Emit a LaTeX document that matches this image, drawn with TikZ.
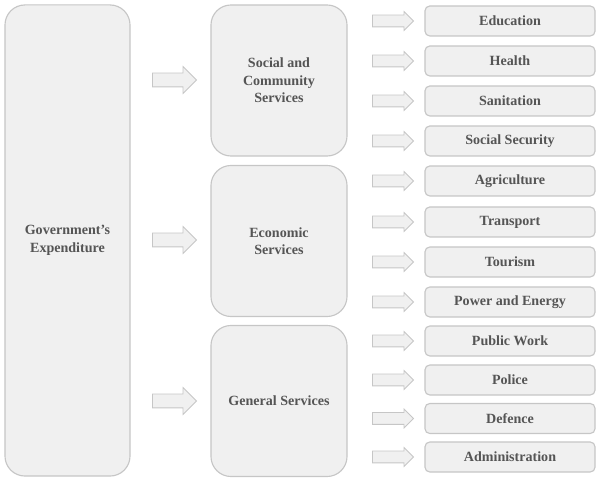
\documentclass[tikz,border=0pt]{standalone}
\usepackage{fontspec}
\setmainfont{Liberation Serif}
\usetikzlibrary{shapes.arrows}
\definecolor{boxfill}{HTML}{F0F0F0}
\definecolor{boxline}{HTML}{C6C6C6}
\definecolor{txtgray}{HTML}{555555}

\begin{document}
\begin{tikzpicture}[
  x=0.025cm, y=-0.025cm,
  block/.style      = {draw=boxline, fill=boxfill, line width=0.8pt, align=center,
                       text=txtgray, font=\bfseries\fontsize{10}{12.5}\selectfont, inner sep=0pt},
  mainbox/.style    = {block, rounded corners=0.5cm, minimum width=3.125cm, minimum height=11.775cm},
  groupbox/.style   = {block, rounded corners=0.5cm, minimum width=3.4cm, minimum height=3.775cm},
  itembox/.style    = {block, rounded corners=0.12cm, minimum width=4.25cm, minimum height=0.75cm},
  bigarrow/.style   = {single arrow, draw=boxline, fill=boxfill, line width=0.6pt, inner sep=0pt,
                       anchor=west, inner ysep=0.1625cm, single arrow head extend=0.1625cm,
                       minimum height=1.1cm},
  smallarrow/.style = {bigarrow, inner ysep=0.1375cm, single arrow head extend=0.0875cm,
                       minimum height=1.025cm},
]
  \useasboundingbox (0,0) rectangle (600,484);

  % main and group boxes
  \node[mainbox]  (gov)  at (67.5,240.5) {Government’s\\Expenditure};
  \node[groupbox] (soc)  at (279,80.5)   {Social and\\Community\\Services};
  \node[groupbox] (eco)  at (279,241)    {Economic\\Services};
  \node[groupbox] (gen)  at (279,401)    {General Services};

  \node[bigarrow] (asoc) at (152,80)  {};
  \node[bigarrow] (aeco) at (152,240) {};
  \node[bigarrow] (agen) at (152,401) {};

  % items
  \foreach \name/\ypos/\label in {edu/21/Education, hea/61/Health, san/101/Sanitation,
      sec/141/Social Security, agr/181/Agriculture, tra/222/Transport, tou/262/Tourism,
      pow/302/Power and Energy, pub/341/Public Work, pol/380/Police, def/418.5/Defence,
      adm/457/Administration} {
    \node[itembox]    (\name)   at (510,\ypos) {\label};
    \node[smallarrow] (a\name)  at (372,\ypos) {};
  }
\end{tikzpicture}
\end{document}
